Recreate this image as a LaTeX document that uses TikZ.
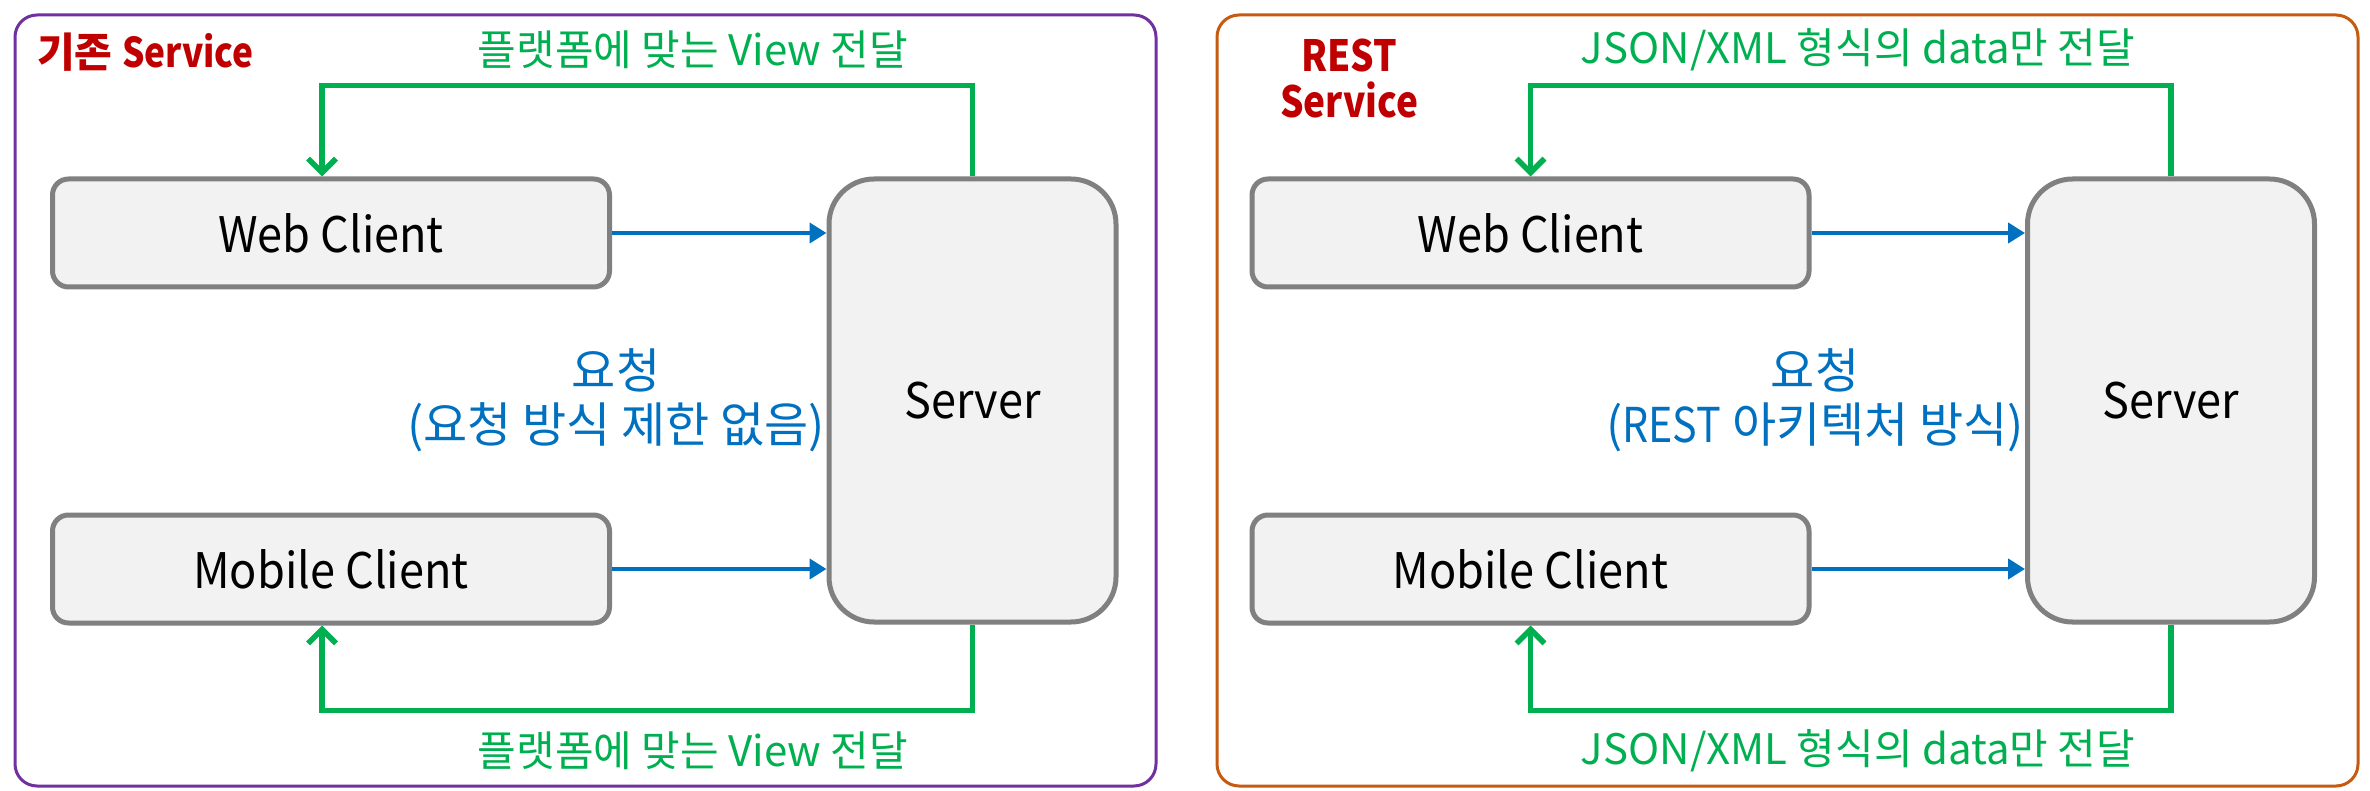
\documentclass[tikz,border=0pt]{standalone}
\usepackage{fontspec}
\setmainfont{Noto Sans CJK KR}
\newfontfamily\latc[FakeStretch=0.92]{Noto Sans CJK KR}
\newfontfamily\latb[FakeStretch=0.86]{Noto Sans CJK KR}
\usetikzlibrary{arrows.meta}
\definecolor{frameL}{HTML}{7030A0}
\definecolor{frameR}{HTML}{C55A11}
\definecolor{gline}{HTML}{00B050}
\definecolor{bline}{HTML}{0070C0}
\definecolor{boxfill}{HTML}{F2F2F2}
\definecolor{boxdraw}{HTML}{808080}
\definecolor{titlered}{HTML}{C00000}
\begin{document}
\begin{tikzpicture}[x=1pt,y=-1pt,
  box/.style={draw=boxdraw, fill=boxfill, line width=5pt, rounded corners=16pt,
    minimum width=557pt, minimum height=108pt, inner sep=0pt,
    font=\latc\fontsize{49}{58}\selectfont},
  server/.style={box, rounded corners=45pt, minimum width=287pt, minimum height=443pt},
  garrow/.style={draw=gline, line width=5.5pt, -{Straight Barb[length=14pt,width=28pt]}},
  barrow/.style={draw=bline, line width=4.5pt, -{Triangle[length=17pt,width=20pt]}},
  glabel/.style={text=gline, inner sep=0pt, font=\fontsize{42}{50}\selectfont},
  blabel/.style={text=bline, inner sep=0pt, align=center, font=\fontsize{48}{54}\selectfont},
  title/.style={text=titlered, inner sep=0pt, align=center, font=\bfseries\fontsize{41}{45}\selectfont},
  frame/.style={line width=3pt, rounded corners=22pt}
]
\fill[white] (0,0) rectangle (2370,791);
\useasboundingbox (0,0) rectangle (2370,791);

% ---------- left panel ----------
\draw[frame, draw=frameL] (15,15) rectangle (1156,786);
\node[title, anchor=west] (t1) at (37,52) {기존 {\latb\bfseries Service}};

\node[box] (web1) at (331,233) {Web Client};
\node[box] (mob1) at (331,569) {Mobile Client};
\node[server] (srv1) at (972.5,400.5) {Server};

\draw[barrow] (web1.east) -- (web1.east -| srv1.west);
\draw[barrow] (mob1.east) -- (mob1.east -| srv1.west);

\draw[garrow] (srv1.north) -- ++(0,-91) -| ([xshift=-9pt]web1.north);
\draw[garrow] (srv1.south) -- ++(0,86) -| ([xshift=-9pt]mob1.south);

\node[glabel] (g1) at (693,50) {플랫폼에 맞는 View 전달};
\node[glabel] (g2) at (693,751) {플랫폼에 맞는 View 전달};
\node[blabel] (b1) at (616,400) {요청\\(요청 방식 제한 없음)};

% ---------- right panel ----------
\draw[frame, draw=frameR] (1217,15) rectangle (2358,786);
\node[title, font=\bfseries\fontsize{43}{46}\selectfont] (t2) at (1349,79) {{\latb\bfseries REST}\\{\latb\bfseries Service}};

\node[box] (web2) at (1530.5,233) {Web Client};
\node[box] (mob2) at (1530.5,569) {Mobile Client};
\node[server] (srv2) at (2171,400.5) {Server};

\draw[barrow] (web2.east) -- (web2.east -| srv2.west);
\draw[barrow] (mob2.east) -- (mob2.east -| srv2.west);

\draw[garrow] (srv2.north) -- ++(0,-91) -| (web2.north);
\draw[garrow] (srv2.south) -- ++(0,86) -| (mob2.south);

\node[glabel] (g3) at (1858,50) {JSON/XML 형식의 data만 전달};
\node[glabel] (g4) at (1858,751) {JSON/XML 형식의 data만 전달};
\node[blabel] (b2) at (1815,400) {요청\\({\latb REST} 아키텍처 방식)};
\end{tikzpicture}
\end{document}
